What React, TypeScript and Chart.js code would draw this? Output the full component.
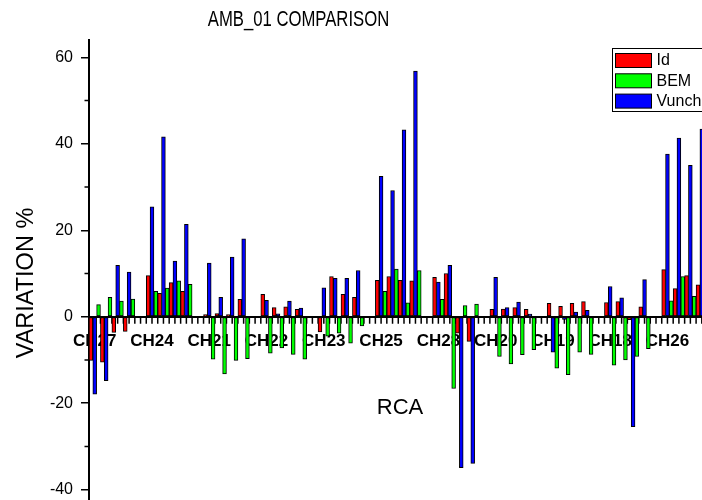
import React, { useEffect, useRef } from "react";
import { Chart, registerables } from "chart.js";

Chart.register(...registerables);

// ---------- data ----------
const channels = ["CH27", "CH24", "CH21", "CH22", "CH23", "CH25", "CH28", "CH20", "CH19", "CH18", "CH26"];

// four measurements per channel, in channel order
const idValues = [
  -10.1, -10.5, -3.6, -3.4,
  9.5, 5.4, 7.9, 5.9,
  0.5, 0.75, 0.5, 4.0,
  5.2, 2.1, 2.3, 1.7,
  -3.5, 9.3, 5.2, 4.5,
  8.4, 9.3, 8.4, 8.3,
  9.1, 10.0, -3.8, -5.7,
  1.7, 1.8, 2.1, 1.7,
  3.1, 2.4, 3.1, 3.5,
  3.3, 3.5, -0.7, 2.3,
  10.9, 6.5, 9.5, 7.4,
];

const bemValues = [
  2.8, 4.5, 3.6, 4.1,
  5.9, 6.6, 8.3, 7.5,
  -9.8, -13.2, -10.1, -9.7,
  -8.4, -7.2, -8.7, -9.8,
  -4.5, -3.8, -6.1, -2.1,
  5.9, 11.0, 3.2, 10.7,
  4.0, -16.6, 2.6, 2.9,
  -9.2, -10.9, -8.8, -7.6,
  -11.9, -13.4, -8.2, -8.7,
  -11.2, -10.0, -9.2, -7.4,
  3.7, 9.3, 4.7, 5.0,
];

const vunchValues = [
  -17.9, -14.8, 11.9, 10.3,
  25.4, 41.6, 12.9, 21.4,
  12.4, 4.5, 13.8, 18.0,
  3.8, 0.7, 3.6, 2.0,
  6.7, 8.9, 8.9, 10.7,
  32.5, 29.2, 43.2, 56.8,
  8.0, 11.9, -34.9, -33.9,
  9.1, 2.1, 3.4, 0.6,
  -8.2, -0.6, 1.1, 1.5,
  7.0, 4.4, -25.4, 8.6,
  37.6, 41.3, 35.0, 43.4,
];

const yMinorTicks = [-30, -10, 10, 30, 50];

const PER_CHANNEL = 4;

// each channel: 4 measurement slots followed by one empty slot
function toSlots(values: number[]): (number | null)[] {
  const out: (number | null)[] = [];
  channels.forEach((_, c) => {
    for (let k = 0; k < PER_CHANNEL; k++) out.push(values[c * PER_CHANNEL + k]);
    out.push(null);
  });
  return out;
}
const slotLabels: string[] = channels.flatMap((ch) => [ch, "", "", "", ""]);

const FONT = "'Liberation Sans', Arial, Helvetica, sans-serif";
const RED = "#ff0000";
const GREEN = "#00ff00";
const BLUE = "#0000ff";

const axisTicksPlugin = {
  id: "axisTicks",
  beforeDatasetsDraw(chart: any) {
    const { ctx, chartArea } = chart;
    const x = chart.scales.x;
    const y = chart.scales.y;
    const y0 = y.getPixelForValue(0);
    const n = x.getLabels().length;
    const half = (x.getPixelForValue(1) - x.getPixelForValue(0)) / 2;
    ctx.save();
    ctx.strokeStyle = "#000";
    ctx.lineWidth = 1.5;
    ctx.beginPath();
    for (let i = 0; i < n; i++) {
      const c = x.getPixelForValue(i);
      ctx.moveTo(c - half, y0);
      ctx.lineTo(c - half, y0 + 7);
      ctx.moveTo(c, y0);
      ctx.lineTo(c, y0 + 7);
    }
    for (const v of yMinorTicks) {
      const py = y.getPixelForValue(v);
      ctx.moveTo(chartArea.left - 4.5, py);
      ctx.lineTo(chartArea.left, py);
    }
    ctx.stroke();
    ctx.restore();
  },
};

const decorPlugin = {
  id: "decor",
  afterDraw(chart: any) {
    const { ctx } = chart;
    ctx.save();
    ctx.fillStyle = "#000";
    // title (tall narrow lettering)
    ctx.save();
    ctx.translate(298.5, 20);
    ctx.scale(1, 1.3);
    ctx.font = `16.7px ${FONT}`;
    ctx.textAlign = "center";
    ctx.textBaseline = "middle";
    ctx.fillText("AMB_01 COMPARISON", 0, 0);
    ctx.restore();

    // x title
    ctx.font = `22px ${FONT}`;
    ctx.textAlign = "center";
    ctx.textBaseline = "middle";
    ctx.fillText("RCA", 400, 408);

    // y title
    ctx.save();
    ctx.translate(27, 283);
    ctx.rotate(-Math.PI / 2);
    ctx.font = `23.5px ${FONT}`;
    ctx.textAlign = "center";
    ctx.textBaseline = "middle";
    ctx.fillText("VARIATION %", 0, 0);
    ctx.restore();

    // legend
    const order = ["Id", "BEM", "Vunch"];
    const bx = 612.5, by = 48.5, bw = 104, bh = 63;
    ctx.fillStyle = "#fff";
    ctx.fillRect(bx, by, bw, bh);
    ctx.strokeStyle = "#000";
    ctx.lineWidth = 1;
    ctx.strokeRect(bx, by, bw, bh);
    ctx.font = `16px ${FONT}`;
    ctx.textAlign = "left";
    ctx.textBaseline = "middle";
    order.forEach((lab, i) => {
      const ds = chart.data.datasets.find((d: any) => d.label === lab);
      const sy = 53.5 + i * 20.3;
      ctx.fillStyle = ds.backgroundColor;
      ctx.fillRect(615.5, sy, 36, 14);
      ctx.strokeStyle = "#000";
      ctx.strokeRect(615.5, sy, 36, 14);
      ctx.fillStyle = "#000";
      ctx.fillText(lab, 656.5, sy + 7.5);
    });
    ctx.restore();
  },
};

export default function App() {
  const ref = useRef<HTMLCanvasElement>(null);
  useEffect(() => {
    const canvas = ref.current!;
    const barStyle = { borderColor: "#000", borderWidth: 1, borderSkipped: false as const };
    const chart = new Chart(canvas, {
      type: "bar",
      data: {
        labels: slotLabels,
        datasets: [
          { label: "Id", data: toSlots(idValues), backgroundColor: RED, ...barStyle },
          { label: "Vunch", data: toSlots(vunchValues), backgroundColor: BLUE, ...barStyle },
          { label: "BEM", data: toSlots(bemValues), backgroundColor: GREEN, ...barStyle },
        ],
      },
      options: {
        responsive: false,
        animation: false,
        devicePixelRatio: 1,
        layout: { padding: { top: 40, left: 0, right: 0, bottom: 0 } },
        datasets: { bar: { categoryPercentage: 1.0, barPercentage: 1.0 } },
        plugins: {
          legend: { display: false },
          title: { display: false },
          tooltip: { enabled: false },
        },
        scales: {
          x: {
            type: "category",
            position: { y: 0 } as any,
            offset: true,
            grid: { display: false, drawTicks: false },
            border: { display: true, color: "#000", width: 2 },
            ticks: {
              autoSkip: false,
              maxRotation: 0,
              minRotation: 0,
              padding: 14,
              color: "#000",
              font: { family: FONT, size: 17, weight: "bold" },
            },
            afterFit: (s: any) => {
              s.height = 0;
              s.paddingLeft = 0;
              s.paddingRight = 0;
            },
          },
          y: {
            type: "linear",
            min: -44,
            max: 64,
            ticks: {
              stepSize: 20,
              includeBounds: false,
              padding: 8,
              color: "#000",
              font: { family: FONT, size: 16 },
            },
            grid: { display: true, drawOnChartArea: false, drawTicks: true, tickLength: 8, color: "#000", lineWidth: 1.5 },
            border: { display: true, color: "#000", width: 2 },
            afterFit: (s: any) => {
              s.width = 89;
              s.paddingTop = 0;
              s.paddingBottom = 0;
            },
          },
        },
      } as any,
      plugins: [axisTicksPlugin, decorPlugin],
    });
    return () => chart.destroy();
  }, []);
  return (
    <div style={{ position: "fixed", left: 0, top: 0, width: 702, height: 500, overflow: "hidden", background: "#fff" }}>
      <canvas ref={ref} width={719} height={507} style={{ display: "block", width: 719, height: 507 }} />
    </div>
  );
}
